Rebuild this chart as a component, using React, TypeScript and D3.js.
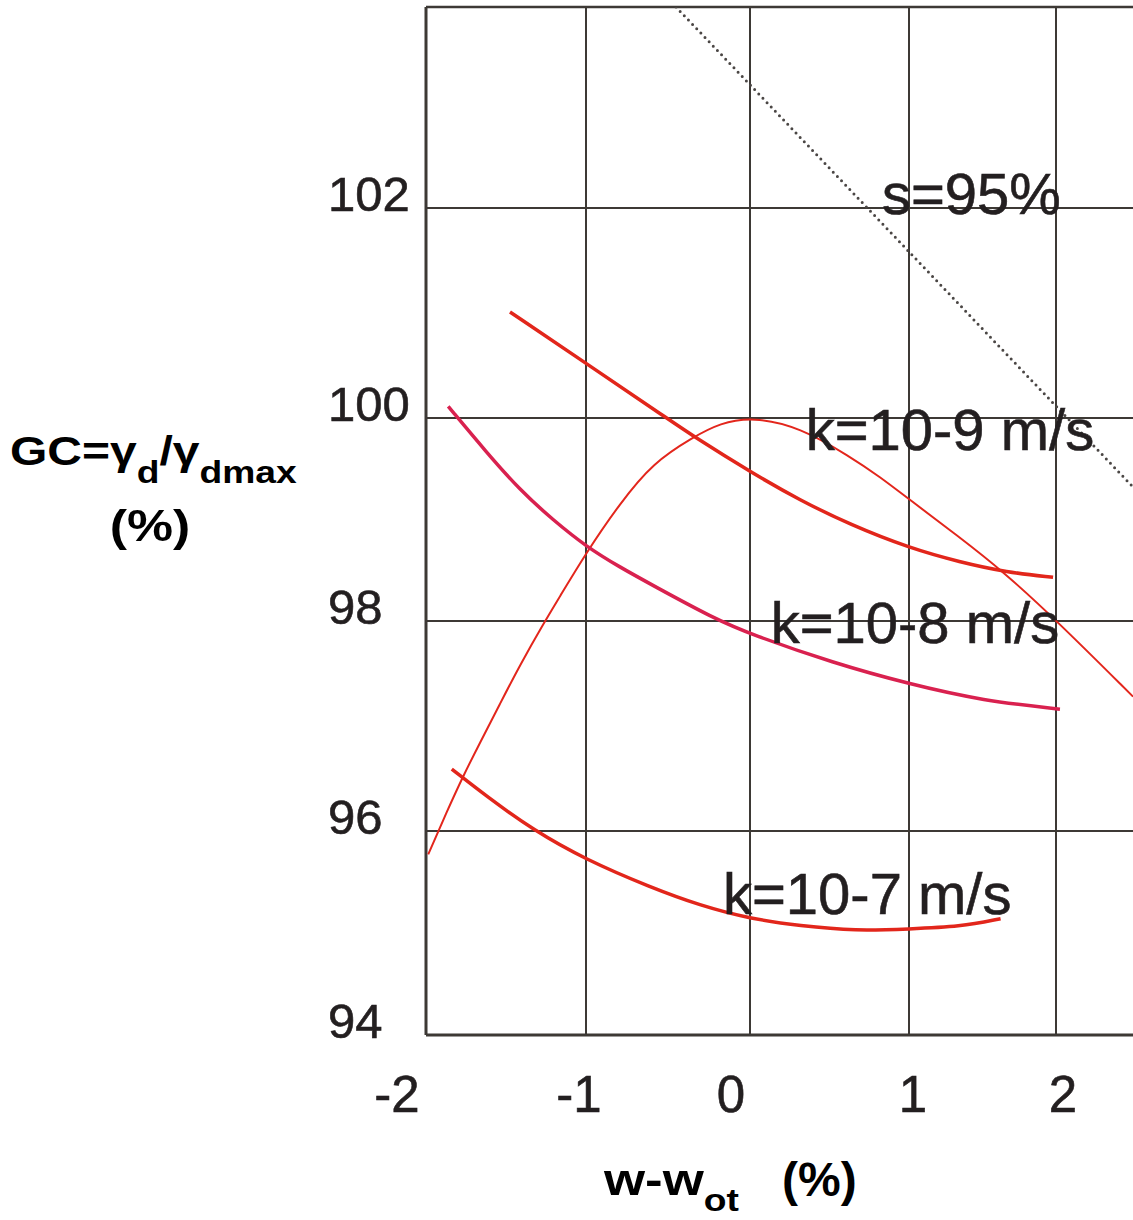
import * as d3 from "d3";

// x: w - w_opt (%), y: GC (%)
const xTicks = [-2, -1, 0, 1, 2];
const yTicks = [94, 96, 98, 100, 102];

// compaction curve (thin red)
const compX = [-1.986, -1.871, -1.769, -1.663, -1.538, -1.413, -1.256, -1.175, -1.0, -0.793, -0.591, -0.348, -0.183, 0.019, 0.314, 0.629, 0.818, 1.0, 1.33, 1.639, 2.0, 2.524];
const compY = [95.77, 96.18, 96.52, 96.84, 97.21, 97.58, 98.0, 98.21, 98.67, 99.16, 99.56, 99.81, 99.95, 100.01, 99.91, 99.62, 99.42, 99.2, 98.84, 98.49, 98.01, 97.28];

// k = 1e-9 m/s
const k9X = [-1.475, -1, -0.508, -0.346, 0.011, 0.314, 0.629, 1, 1.347, 1.665, 1.98];
const k9Y = [101.01, 100.52, 100.0, 99.82, 99.46, 99.19, 98.95, 98.72, 98.58, 98.48, 98.43];

// k = 1e-8 m/s
const k8X = [-1.861, -1.621, -1.413, -1.206, -0.996, -0.793, -0.591, -0.226, 0.011, 0.524, 1, 1.506, 2.027];
const k8Y = [100.11, 99.66, 99.29, 98.995, 98.73, 98.53, 98.35, 98.03, 97.87, 97.6, 97.4, 97.24, 97.16];

// k = 1e-7 m/s
const k7X = [-1.839, -1.621, -1.331, -1.002, -0.61, -0.305, 0, 0.314, 0.667, 1, 1.347, 1.623];
const k7Y = [96.59, 96.33, 96.01, 95.72, 95.45, 95.27, 95.14, 95.07, 95.02, 95.04, 95.06, 95.14];

// saturation line s=95%
const satX = [-0.451, 2.524];
const satY = [103.914, 99.32];

const labelText = ["s=95%", "k=10-9 m/s", "k=10-8 m/s", "k=10-7 m/s"];
const labelX = [0.83, 0.35, 0.13, -0.165];
const labelY = [101.94, 99.68, 97.79, 95.19];

const W = 1133;
const H = 1220;
const left = 426;
const right = 1133;
const top = 7;
const bottom = 1035;

const FONT = "'Liberation Sans', Arial, sans-serif";
const INK = "#231f20";
const GRID = "#3d3935";

// where the printed x tick labels sit relative to their grid lines
const xTickNudge = [-29, -7, -19, 4, 7];

const x = d3.scaleLinear().domain(xTicks).range([426, 586, 750, 909, 1056]);
const y = d3.scaleLinear().domain(yTicks).range([1035, 831, 621, 418, 208]);

function path(xs: number[], ys: number[], curve: any = d3.curveBasis) {
  const pts: [number, number][] = xs.map((v, i) => [x(v), y(ys[i])]);
  return d3.line().curve(curve)(pts) || "";
}

const series = [
  { d: path(compX, compY), color: "#e3261c", width: 2 },
  { d: path(k9X, k9Y), color: "#e2261b", width: 3.5 },
  { d: path(k8X, k8Y), color: "#d9214f", width: 3.5 },
  { d: path(k7X, k7Y), color: "#e2261b", width: 3.5 },
];

export default function App() {
  return (
    <svg
      width={W}
      height={H}
      style={{ position: "absolute", left: 0, top: 0, background: "#fff" }}
      fontFamily={FONT}
    >
      <defs>
        <clipPath id="plot">
          <rect x={left} y={top} width={right - left} height={bottom - top} />
        </clipPath>
      </defs>

      {/* grid */}
      {yTicks.slice(1).map((t) => (
        <line key={"h" + t} x1={left} x2={right} y1={y(t)} y2={y(t)} stroke={GRID} strokeWidth={2} />
      ))}
      {xTicks.slice(1).map((t) => (
        <line key={"v" + t} x1={x(t)} x2={x(t)} y1={top} y2={bottom} stroke={GRID} strokeWidth={2} />
      ))}
      <line x1={left} x2={right} y1={top} y2={top} stroke={GRID} strokeWidth={2.5} />
      <line x1={left} x2={left} y1={top} y2={bottom} stroke={GRID} strokeWidth={3} />
      <line x1={left} x2={right} y1={bottom} y2={bottom} stroke={GRID} strokeWidth={3} />

      <g clipPath="url(#plot)">
        <path
          d={path(satX, satY, d3.curveLinear)}
          fill="none"
          stroke="#4a4644"
          strokeWidth={3}
          strokeDasharray="0 6"
          strokeLinecap="round"
        />
        {series.map((s, i) => (
          <path key={i} d={s.d} fill="none" stroke={s.color} strokeWidth={s.width} />
        ))}
      </g>

      {/* curve labels */}
      {labelText.map((t, i) => (
        <text
          key={t}
          x={x(labelX[i])}
          y={y(labelY[i])}
          fontSize={58}
          fill={INK}
          stroke={INK}
          strokeWidth={0.6}
        >
          {t}
        </text>
      ))}

      {/* y tick labels */}
      {yTicks.map((t) => (
        <text key={"yl" + t} x={328} y={y(t) + 3} fontSize={49} fill={INK} stroke={INK} strokeWidth={0.6}>
          {t}
        </text>
      ))}

      {/* x tick labels */}
      {xTicks.map((t, i) => (
        <text
          key={"xl" + t}
          x={x(t) + xTickNudge[i]}
          y={1112}
          fontSize={51}
          fill={INK}
          stroke={INK}
          strokeWidth={0.6}
          textAnchor="middle"
        >
          {t}
        </text>
      ))}

      {/* y axis title */}
      <g transform="translate(10,465) scale(1.2,1)">
        <text x={0} y={0} fontSize={40} fontWeight="bold" fill="#000">
          GC=
          <tspan>γ</tspan>
          <tspan dy={18} fontSize={31}>d</tspan>
          <tspan dy={-18}>/</tspan>
          <tspan>γ</tspan>
          <tspan dy={18} fontSize={31}>dmax</tspan>
        </text>
      </g>
      <g transform="translate(150,541) scale(1.15,1)">
        <text x={0} y={0} fontSize={45} fontWeight="bold" fill="#000" textAnchor="middle">
          (%)
        </text>
      </g>

      {/* x axis title */}
      <g transform="translate(604,1195) scale(1.2,1)">
        <text x={0} y={0} fontSize={44} fontWeight="bold" fill="#000">
          w-w
          <tspan dy={16} fontSize={31}>ot</tspan>
        </text>
      </g>
      <text x={782} y={1196} fontSize={48} fontWeight="bold" fill="#000">
        (%)
      </text>
    </svg>
  );
}
